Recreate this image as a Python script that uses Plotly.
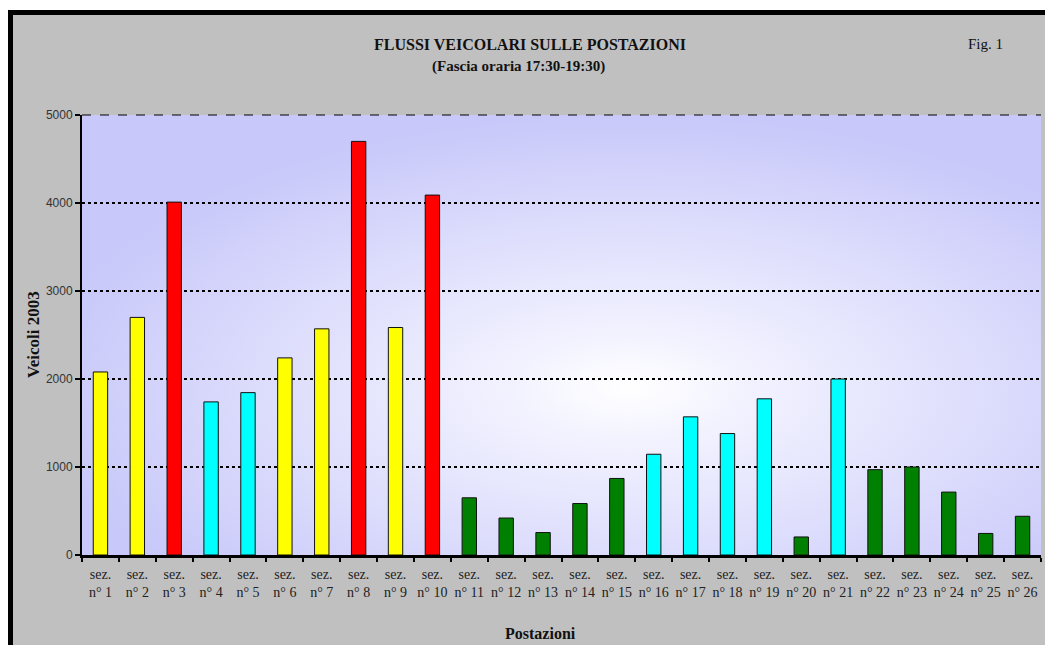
import base64
import plotly.graph_objects as go

# ---- data ----
categories = [f"sez.<br>n° {i}" for i in range(1, 27)]
vehicles = [2080, 2700, 4010, 1740, 1845, 2240, 2570, 4700, 2585, 4090,
            650, 420, 255, 585, 870, 1145, 1570, 1380, 1775, 205,
            2000, 970, 1000, 715, 245, 440]
classes = ["Y", "Y", "R", "C", "C", "Y", "Y", "R", "Y", "R",
           "G", "G", "G", "G", "G", "C", "C", "C", "C", "G",
           "C", "G", "G", "G", "G", "G"]
class_colors = {"Y": "#FFFF00", "R": "#FF0000", "C": "#00FFFF", "G": "#008000"}
y_ticks = [0, 1000, 2000, 3000, 4000, 5000]

# ---- layout geometry (pixels) ----
WIDTH, HEIGHT = 1045, 645
L, R, T, B = 82, 4, 115, 90
PW = WIDTH - L - R
PH = HEIGHT - T - B


def px(x):
    return (x - L) / PW


def py(y):
    return (HEIGHT - B - y) / PH


SERIF = "Liberation Serif, Times New Roman, serif"
SANS = "Liberation Sans, Arial, sans-serif"

# radial gradient background of the plot area
svg = (
    '<svg xmlns="http://www.w3.org/2000/svg" width="400" height="200" '
    'viewBox="0 0 400 200" preserveAspectRatio="none">'
    '<defs><radialGradient id="g" cx="0.57" cy="0.62" r="0.62" fx="0.57" fy="0.62">'
    '<stop offset="0" stop-color="#ffffff"/>'
    '<stop offset="0.2" stop-color="#f2f2ff"/>'
    '<stop offset="1" stop-color="#c8c8fa"/>'
    '</radialGradient></defs>'
    '<rect x="0" y="0" width="400" height="200" fill="url(#g)"/></svg>'
)
svg_uri = "data:image/svg+xml;base64," + base64.b64encode(svg.encode()).decode()

fig = go.Figure(
    go.Bar(
        x=categories,
        y=vehicles,
        marker=dict(color=[class_colors[c] for c in classes],
                    line=dict(color="#111111", width=1)),
        width=0.39,
        hoverinfo="x+y",
    )
)

shapes = [
    # white outer margin
    dict(type="rect", xref="paper", yref="paper", x0=px(0), x1=px(WIDTH), y0=py(10), y1=py(0),
         fillcolor="white", line=dict(width=0), layer="above"),
    dict(type="rect", xref="paper", yref="paper", x0=px(0), x1=px(8), y0=py(HEIGHT), y1=py(0),
         fillcolor="white", line=dict(width=0), layer="above"),
    # black frame
    dict(type="rect", xref="paper", yref="paper", x0=px(8), x1=px(WIDTH), y0=py(15), y1=py(10),
         fillcolor="black", line=dict(width=0), layer="above"),
    dict(type="rect", xref="paper", yref="paper", x0=px(8), x1=px(13), y0=py(HEIGHT), y1=py(10),
         fillcolor="black", line=dict(width=0), layer="above"),
    # thin dashed top border of plot area
    dict(type="line", xref="paper", yref="paper", x0=0, x1=1, y0=1, y1=1,
         line=dict(color="#000000", width=1, dash="dash"), layer="above"),
]

annotations = [
    dict(text="<b>FLUSSI VEICOLARI SULLE POSTAZIONI</b>", x=px(530), y=py(44),
         xref="paper", yref="paper", showarrow=False, xanchor="center", yanchor="middle",
         font=dict(family=SERIF, size=16, color="#111111")),
    dict(text="<b>(Fascia oraria 17:30-19:30)</b>", x=px(518), y=py(66),
         xref="paper", yref="paper", showarrow=False, xanchor="center", yanchor="middle",
         font=dict(family=SERIF, size=15, color="#111111")),
    dict(text="Fig. 1", x=px(985), y=py(44),
         xref="paper", yref="paper", showarrow=False, xanchor="center", yanchor="middle",
         font=dict(family=SERIF, size=15, color="#111111")),
    dict(text="<b>Postazioni</b>", x=px(540), y=py(633),
         xref="paper", yref="paper", showarrow=False, xanchor="center", yanchor="middle",
         font=dict(family=SERIF, size=16, color="#111111")),
    dict(text="<b>Veicoli 2003</b>", x=px(33), y=py(335), textangle=-90,
         xref="paper", yref="paper", showarrow=False, xanchor="center", yanchor="middle",
         font=dict(family=SERIF, size=17, color="#111111")),
]

fig.update_layout(
    width=WIDTH,
    height=HEIGHT,
    margin=dict(l=L, r=R, t=T, b=B, pad=0),
    paper_bgcolor="#c0c0c0",
    plot_bgcolor="rgba(0,0,0,0)",
    showlegend=False,
    shapes=shapes,
    annotations=annotations,
    images=[dict(source=svg_uri, xref="paper", yref="paper", x=0, y=1, sizex=1, sizey=1,
                 xanchor="left", yanchor="top", sizing="stretch", layer="below")],
    font=dict(family=SERIF, color="#222222"),
)

fig.update_xaxes(
    type="category",
    showline=True, linecolor="black", linewidth=3,
    ticks="outside", tickson="boundaries", ticklen=4, tickwidth=2, tickcolor="black",
    showgrid=False,
    tickfont=dict(family=SERIF, size=14, color="#222222"),
    tickangle=0,
    ticklabelstandoff=4,
)

fig.update_yaxes(
    range=[0, 5000],
    tickvals=y_ticks,
    showline=True, linecolor="black", linewidth=2,
    ticks="outside", ticklen=5, tickwidth=2, tickcolor="black",
    showgrid=True, gridcolor="black", gridwidth=2, griddash="dot",
    zeroline=False,
    tickfont=dict(family=SANS, size=12, color="#333333"),
)

fig.write_html("out.html")
